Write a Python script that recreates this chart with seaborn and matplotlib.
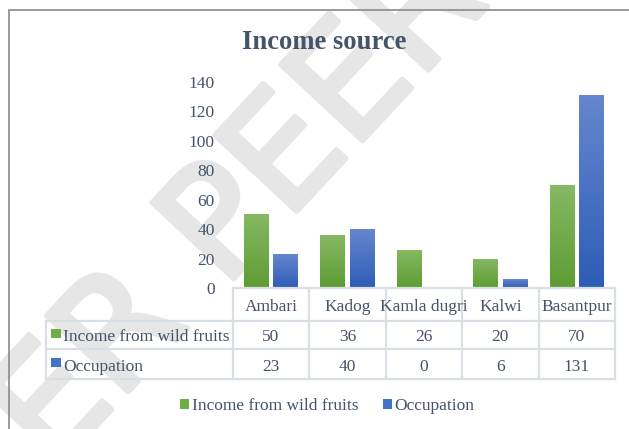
import numpy as np
import pandas as pd
import seaborn as sns
import matplotlib.pyplot as plt
import matplotlib.patheffects as pe
from matplotlib.colors import LinearSegmentedColormap, to_hex
from matplotlib.patches import Rectangle, Patch

villages = ["Ambari", "Kadog", "Kamla dugri", "Kalwi", "Basantpur"]
wild_fruits = [50, 36, 26, 20, 70]
occupation = [23, 40, 0, 6, 131]
series = ["Income from wild fruits", "Occupation"]
yticks = [0, 20, 40, 60, 80, 100, 120, 140]

df = pd.DataFrame({"village": villages * 2,
                   "value": wild_fruits + occupation,
                   "series": [series[0]] * len(villages) + [series[1]] * len(villages)})

sns.set_style("white")
plt.rcParams["font.family"] = ["Liberation Serif", "DejaVu Serif"]
txt = "#44546A"
green, blue = "#70ad47", "#4472c4"
grads = {green: ("#5e9c33", "#86b963"), blue: ("#2e5db6", "#6586ce")}
line_c = "#dadfe6"
fs = 12.5

W, H = 629, 429
fig = plt.figure(figsize=(W / 100, H / 100), dpi=100)

# watermark behind everything
wm_c = "#e6e6e6"
fig.text(344 / W, 1 - 98 / H, "UNDER PEER REVIEW", rotation=47, rotation_mode="anchor",
         ha="center", va="center", fontsize=110, color=wm_c, zorder=-10,
         family=["DejaVu Sans"],
         path_effects=[pe.withStroke(linewidth=4, foreground=wm_c, capstyle="round")])

# outer chart frame
fig.add_artist(Rectangle((8.8 / W, -0.05), 1.0, 1 - 9.5 / H + 0.05, transform=fig.transFigure,
                         fill=False, edgecolor="#8a8a8a", lw=1.2, zorder=-5))

ax = fig.add_axes([232.7 / W, 1 - 288 / H, 382.3 / W, 206 / H])
ax.patch.set_alpha(0)

sns.barplot(data=df, x="village", y="value", hue="series", palette=[green, blue],
            width=0.774, gap=0.17, saturation=1, errorbar=None, legend=False,
            linewidth=0, ax=ax)

# excel-like vertical gradient on each bar
for bar in ax.patches:
    h = bar.get_height()
    if h <= 0:
        continue
    lo, hi = grads[to_hex(bar.get_facecolor())]
    cm = LinearSegmentedColormap.from_list("g", [lo, hi])
    x0 = bar.get_x()
    im = ax.imshow(np.linspace(1, 0, 64).reshape(-1, 1), cmap=cm, vmin=0, vmax=1,
                   extent=[x0, x0 + bar.get_width(), bar.get_y(), bar.get_y() + h],
                   aspect="auto", zorder=bar.get_zorder() + 0.1)
    im.set_clip_path(bar)

ax.set_xlim(-0.5, len(villages) - 0.5)
ax.set_ylim(0, 140)
ax.set_aspect("auto")
sns.despine(ax=ax, left=True, bottom=True)
ax.set_xticks([])
ax.set_xlabel("")
ax.set_ylabel("")
ax.set_yticks(yticks)
ax.set_yticklabels([str(t) for t in yticks], fontsize=fs, color=txt)
ax.tick_params(axis="y", length=0, pad=13)

# data table under the plot
tr = ax.get_xaxis_transform()
unit = 382.3 / len(villages)
xl = -0.5 - (232.7 - 45.7) / unit
r1, r2, r3 = -0.1587, -0.2976, -0.4417
kw = dict(transform=tr, clip_on=False, color=line_c, lw=1.6, solid_capstyle="projecting")
for b in np.arange(-0.5, len(villages), 1):
    ax.plot([b, b], [0, r3], **kw)
ax.plot([xl, xl], [r1, r3], **kw)
ax.plot([-0.5, len(villages) - 0.5], [0, 0], **kw)
for y in [r1, r2, r3]:
    ax.plot([xl, len(villages) - 0.5], [y, y], **kw)

for i, v in enumerate(villages):
    ax.text(i, -0.1117, v, transform=tr, ha="center", va="baseline", fontsize=fs, color=txt)
for i, (a, b) in enumerate(zip(wild_fruits, occupation)):
    ax.text(i, -0.2597, str(a), transform=tr, ha="center", va="baseline", fontsize=fs, color=txt)
    ax.text(i, -0.4029, str(b), transform=tr, ha="center", va="baseline", fontsize=fs, color=txt)

for name, col, base, kb in [(series[0], green, -0.2597, -0.2413), (series[1], blue, -0.4029, -0.3820)]:
    ax.add_patch(Rectangle((xl + 5.3 / unit, kb), 10 / unit, 8.4 / 206, transform=tr,
                           clip_on=False, facecolor=col, lw=0))
    ax.text(xl + 17.6 / unit, base, name, transform=tr, ha="left", va="baseline",
            fontsize=fs, color=txt)

fig.text(324 / W, 1 - 49 / H, "Income source", ha="center", va="baseline",
         fontsize=19.2, fontweight="bold", color=txt)

handles = [Patch(facecolor=green, lw=0), Patch(facecolor=blue, lw=0)]
fig.legend(handles, series, loc="center", bbox_to_anchor=(327.5 / W, 1 - 406 / H), ncol=2,
           frameon=False, fontsize=fs, labelcolor=txt, handlelength=0.52, handleheight=0.46,
           handletextpad=0.17, columnspacing=1.38, borderpad=0)

fig.savefig("out.png", dpi=100, facecolor="white")
